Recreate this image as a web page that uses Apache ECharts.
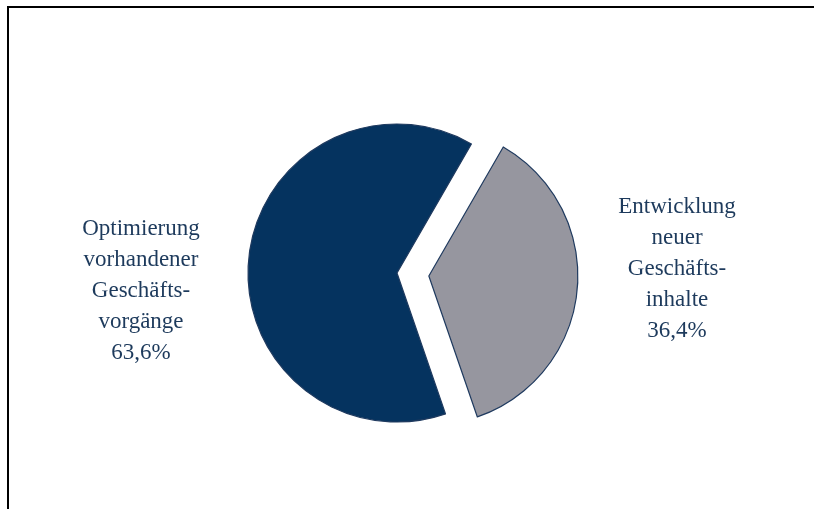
<!DOCTYPE html>
<html>
<head>
<meta charset="utf-8">
<style>
html,body{margin:0;padding:0;background:#fff;}
#chart{width:814px;height:509px;}
</style>
<script src="https://cdn.jsdelivr.net/npm/echarts@6/dist/echarts.min.js"></script>
</head>
<body>
<div id="chart"></div>
<script>
const categories = ['Optimierung\nvorhandener\nGeschäfts-\nvorgänge', 'Entwicklung\nneuer\nGeschäfts-\ninhalte'];
const values = [63.6, 36.4];
const colors = ['#05335f', '#96969f'];
const exploded = [false, true];

const chart = echarts.init(document.getElementById('chart'), null, {renderer: 'canvas'});
const labelPos = [[141, 291], [677, 269]];
const fmt = v => v.toFixed(1).replace('.', ',') + '%';
const labelGraphics = categories.map((c, i) => ({
  type: 'text',
  x: labelPos[i][0],
  y: labelPos[i][1],
  z: 20,
  style: {
    text: c + '\n' + fmt(values[i]),
    fill: '#1d3a5c',
    font: '23px "Liberation Serif", "Times New Roman", serif',
    lineHeight: 31,
    align: 'center',
    verticalAlign: 'middle'
  }
}));
chart.setOption({
  animation: false,
  backgroundColor: '#ffffff',
  graphic: [
    {type: 'line', shape: {x1: 8, y1: 7, x2: 814, y2: 7}, style: {stroke: '#000', lineWidth: 2}, z: 10},
    {type: 'line', shape: {x1: 8, y1: 6, x2: 8, y2: 509}, style: {stroke: '#000', lineWidth: 2}, z: 10}
  ].concat(labelGraphics),
  series: [{
    type: 'pie',
    center: [397, 273],
    radius: [0, 149],
    startAngle: -71,
    clockwise: true,
    selectedMode: 'single',
    selectedOffset: 32,
    emphasis: {disabled: true},
    label: {show: false},
    labelLine: {show: false},
    itemStyle: {borderColor: '#1f3a5f', borderWidth: 1.2},
    data: categories.map((c, i) => ({
      name: c,
      value: values[i],
      selected: exploded[i],
      itemStyle: {color: colors[i]}
    }))
  }]
});
</script>
</body>
</html>
